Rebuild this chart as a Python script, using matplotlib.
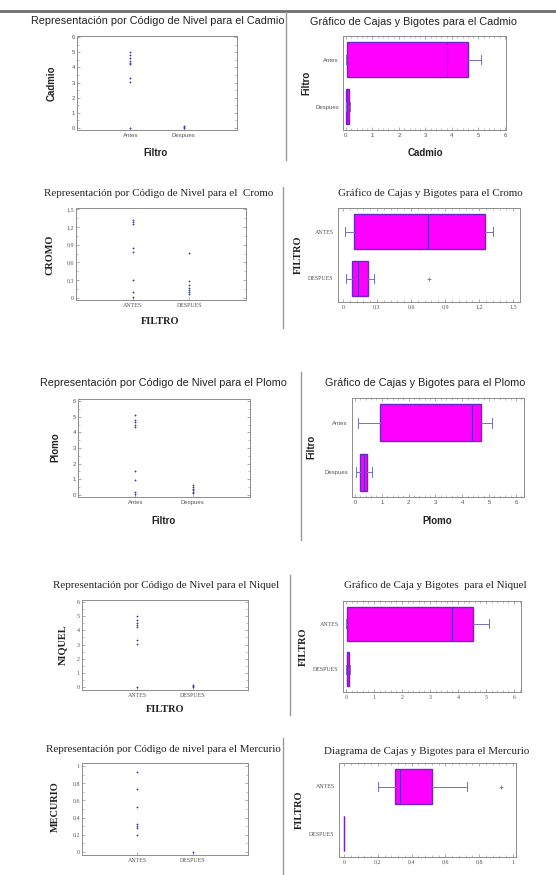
import matplotlib
matplotlib.use("Agg")
import matplotlib.pyplot as plt
from matplotlib.lines import Line2D
from matplotlib.ticker import AutoMinorLocator

W, H = 556, 875

SANS = "Liberation Sans"
SERIF = "Liberation Serif"
MAGENTA = "#ff00ff"
BOX_EDGE = "#6a28c8"
WHISKER = "#7070c8"
POINT = "#3a3ac8"
FRAME = "#8c8c8c"
TICKTXT = "#555555"

# categorias
cat_sans = ["Antes", "Despues"]
cat_serif = ["ANTES", "DESPUES"]

cadmio_antes = [5.0, 4.8, 4.6, 4.45, 4.3, 4.2, 3.3, 3.05, 0.0]
cadmio_despues = [0.12, 0.06, 0.02]
cromo_antes = [1.32, 1.28, 1.25, 0.85, 0.78, 0.3, 0.1, 0.02]
cromo_despues = [0.76, 0.28, 0.22, 0.17, 0.13, 0.1, 0.07]
plomo_antes = [5.1, 4.8, 4.65, 4.5, 4.35, 1.5, 0.95, 0.2, 0.08]
plomo_despues = [0.62, 0.5, 0.4, 0.3, 0.2, 0.1]
niquel_antes = [5.0, 4.75, 4.55, 4.4, 4.25, 3.35, 3.05, 0.0]
niquel_despues = [0.12, 0.06, 0.02]
mercurio_antes = [0.93, 0.73, 0.52, 0.33, 0.3, 0.28, 0.2]
mercurio_despues = [0.0]

# cajas y bigotes: whislo, q1, mediana, q3, whishi
caja_cadmio_antes = [0.0, 0.05, 3.8, 4.6, 5.1]
caja_cadmio_despues = [0.0, 0.02, 0.05, 0.1, 0.15]
caja_cromo_antes = [0.02, 0.1, 0.75, 1.25, 1.32]
caja_cromo_despues = [0.03, 0.08, 0.13, 0.22, 0.27]
caja_plomo_antes = [0.1, 0.95, 4.35, 4.7, 5.1]
caja_plomo_despues = [0.05, 0.2, 0.35, 0.45, 0.65]
caja_niquel_antes = [0.0, 0.05, 3.8, 4.55, 5.1]
caja_niquel_despues = [0.0, 0.02, 0.05, 0.1, 0.15]
caja_mercurio_antes = [0.2, 0.3, 0.33, 0.52, 0.73]
caja_mercurio_despues = [0.0, 0.0, 0.0, 0.0, 0.0]
atipicos_cromo_despues = [0.76]
atipicos_mercurio_antes = [0.93]

# ejes numericos
ticks_0_6 = [0, 1, 2, 3, 4, 5, 6]
labels_0_6 = ["0", "1", "2", "3", "4", "5", "6"]
ticks_cromo = [0, 0.3, 0.6, 0.9, 1.2, 1.5]
labels_cromo = ["0", "0,3", "0,6", "0,9", "1,2", "1,5"]
ticks_mercurio = [0, 0.2, 0.4, 0.6, 0.8, 1.0]
labels_mercurio = ["0", "0,2", "0,4", "0,6", "0,8", "1"]

TICKSIZE = 4.3


def px_axes(fig, l, t, r, b):
    return fig.add_axes([l / W, 1 - b / H, (r - l) / W, (b - t) / H])


def px_text(fig, x, y, s, **kw):
    fig.text(x / W, 1 - y / H, s, ha="center", va="center", **kw)


def px_line(fig, x0, y0, x1, y1, **kw):
    fig.add_artist(Line2D([x0 / W, x1 / W], [1 - y0 / H, 1 - y1 / H],
                          transform=fig.transFigure, **kw))


def frame(ax):
    for sp in ax.spines.values():
        sp.set_edgecolor(FRAME)
        sp.set_linewidth(0.7)


def nivel(fig, rect, antes, despues, cats, yticks, ylabels, ylim, font):
    ax = px_axes(fig, *rect)
    ax.plot([1] * len(antes), antes, "+", color=POINT, ms=2.0, mew=0.6)
    ax.plot([2] * len(despues), despues, "+", color=POINT, ms=2.0, mew=0.6)
    ax.set_xlim(0, 3)
    ax.set_ylim(*ylim)
    ax.set_xticks([1, 2], cats)
    ax.set_yticks(yticks, ylabels)
    ax.yaxis.set_minor_locator(AutoMinorLocator(2))
    ax.tick_params(axis="y", which="both", direction="in", left=True, right=True,
                   colors=FRAME, labelcolor=TICKTXT, labelsize=TICKSIZE, pad=1.5)
    ax.tick_params(axis="y", which="major", length=2.2, width=0.5)
    ax.tick_params(axis="y", which="minor", length=1.2, width=0.4)
    ax.tick_params(axis="x", direction="in", length=2, width=0.5, colors=FRAME,
                   labelcolor=TICKTXT, labelsize=TICKSIZE, pad=2)
    for lab in ax.get_xticklabels() + ax.get_yticklabels():
        lab.set_fontfamily(font)
    frame(ax)
    return ax


def cajas(fig, rect, antes, despues, fl_antes, fl_despues, cats, xticks, xlabels, xlim, font):
    ax = px_axes(fig, *rect)
    stats = []
    for vals, fl in [(despues, fl_despues), (antes, fl_antes)]:
        stats.append(dict(whislo=vals[0], q1=vals[1], med=vals[2], q3=vals[3],
                          whishi=vals[4], fliers=fl))
    ax.bxp(stats, positions=[1, 2], widths=0.75, orientation="horizontal",
           patch_artist=True, manage_ticks=False, capwidths=0.2,
           boxprops=dict(facecolor=MAGENTA, edgecolor=BOX_EDGE, linewidth=1.0),
           medianprops=dict(color=BOX_EDGE, linewidth=0.8),
           whiskerprops=dict(color=WHISKER, linewidth=0.7),
           capprops=dict(color=WHISKER, linewidth=0.7),
           flierprops=dict(marker="+", ms=2.2, mec=WHISKER, mew=0.6))
    ax.set_ylim(0.5, 2.5)
    ax.set_xlim(*xlim)
    ax.set_yticks([1, 2], [cats[1], cats[0]])
    ax.set_xticks(xticks, xlabels)
    ax.xaxis.set_minor_locator(AutoMinorLocator(5))
    ax.tick_params(axis="x", which="both", direction="in", top=True, bottom=True,
                   colors=FRAME, labelcolor=TICKTXT, labelsize=TICKSIZE, pad=2)
    ax.tick_params(axis="x", which="major", length=2.2, width=0.5)
    ax.tick_params(axis="x", which="minor", length=1.2, width=0.4)
    ax.tick_params(axis="y", direction="in", length=0, colors=FRAME,
                   labelcolor=TICKTXT, labelsize=TICKSIZE, pad=3)
    for lab in ax.get_xticklabels() + ax.get_yticklabels():
        lab.set_fontfamily(font)
    frame(ax)
    return ax


fig = plt.figure(figsize=(W / 100, H / 100), dpi=100)
fig.patch.set_facecolor("white")

# lineas de la pagina
px_line(fig, 0, 11, W, 11, color="#6e6e6e", linewidth=2.0)
px_line(fig, 286, 12, 286, 160, color="#9a9a9a", linewidth=1.0)
px_line(fig, 283, 187, 283, 328, color="#9a9a9a", linewidth=1.0)
px_line(fig, 301, 372, 301, 540, color="#9a9a9a", linewidth=1.0)
px_line(fig, 290, 575, 290, 715, color="#9a9a9a", linewidth=1.0)
px_line(fig, 283, 738, 283, 875, color="#9a9a9a", linewidth=1.0)

tsans = dict(fontfamily=SANS, fontsize=7.8, color="#222222")
tserif = dict(fontfamily=SERIF, fontsize=7.9, color="#222222")
lsans = dict(fontfamily=SANS, fontsize=7, fontweight="bold", color="#222222")
lserif = dict(fontfamily=SERIF, fontsize=7.4, fontweight="bold", color="#222222")

# --- Cadmio ---
nivel(fig, (77, 36, 237, 130), cadmio_antes, cadmio_despues, cat_sans,
      ticks_0_6, labels_0_6, (-0.13, 6.07), SANS)
px_text(fig, 158, 21, "Representación por Código de Nivel para el Cadmio", **tsans)
px_text(fig, 52, 83, "Cadmio", rotation=90, **lsans)
px_text(fig, 155, 153, "Filtro", **lsans)

cajas(fig, (343, 36, 506, 130), caja_cadmio_antes, caja_cadmio_despues, [], [],
      cat_sans, ticks_0_6, labels_0_6, (-0.11, 6.04), SANS)
px_text(fig, 414, 22, "Gráfico de Cajas y Bigotes para el Cadmio", **tsans)
px_text(fig, 306, 83, "Filtro", rotation=90, **lsans)
px_text(fig, 425, 153, "Cadmio", **lsans)

# --- Cromo ---
nivel(fig, (76, 208, 246, 300), cromo_antes, cromo_despues, cat_serif,
      ticks_cromo, labels_cromo, (-0.034, 1.52), SERIF)
px_text(fig, 159, 193, "Representación por Código de Nivel para el  Cromo", **tserif)
px_text(fig, 50, 255, "CROMO", rotation=90, **lserif)
px_text(fig, 160, 321, "FILTRO", **lserif)

cajas(fig, (338, 208, 520, 302), caja_cromo_antes, caja_cromo_despues, [],
      atipicos_cromo_despues, cat_serif, ticks_cromo, labels_cromo, (-0.043, 1.56), SERIF)
px_text(fig, 430, 193, "Gráfico de Cajas y Bigotes para el Cromo", **tserif)
px_text(fig, 298, 255, "FILTRO", rotation=90, **lserif)

# --- Plomo ---
nivel(fig, (78, 399, 250, 497), plomo_antes, plomo_despues, cat_sans,
      ticks_0_6, labels_0_6, (-0.13, 6.13), SANS)
px_text(fig, 163, 383, "Representación por Código de Nivel para el Plomo", **tsans)
px_text(fig, 55, 447, "Plomo", rotation=90, **lsans)
px_text(fig, 163, 521, "Filtro", **lsans)

cajas(fig, (352, 398, 524, 497), caja_plomo_antes, caja_plomo_despues, [], [],
      cat_sans, ticks_0_6, labels_0_6, (-0.11, 6.3), SANS)
px_text(fig, 425, 383, "Gráfico de Cajas y Bigotes para el Plomo", **tsans)
px_text(fig, 311, 447, "Filtro", rotation=90, **lsans)
px_text(fig, 437, 521, "Plomo", **lsans)

# --- Niquel ---
nivel(fig, (82, 600, 248, 690), niquel_antes, niquel_despues, cat_serif,
      ticks_0_6, labels_0_6, (-0.2, 6.14), SERIF)
px_text(fig, 166, 585, "Representación por Código de Nivel para el Niquel", **tserif)
px_text(fig, 63, 645, "NIQUEL", rotation=90, **lserif)
px_text(fig, 165, 710, "FILTRO", **lserif)

cajas(fig, (343, 601, 521, 692), caja_niquel_antes, caja_niquel_despues, [], [],
      cat_serif, ticks_0_6, labels_0_6, (-0.11, 6.25), SERIF)
px_text(fig, 435, 585, "Gráfico de Caja y Bigotes  para el Niquel", **tserif)
px_text(fig, 303, 647, "FILTRO", rotation=90, **lserif)

# --- Mercurio ---
nivel(fig, (82, 763, 248, 855), mercurio_antes, mercurio_despues, cat_serif,
      ticks_mercurio, labels_mercurio, (-0.035, 1.035), SERIF)
px_text(fig, 163, 749, "Representación por Código de nivel para el Mercurio", **tserif)
px_text(fig, 55, 807, "MECURIO", rotation=90, **lserif)

cajas(fig, (339, 763, 516, 857), caja_mercurio_antes, caja_mercurio_despues,
      atipicos_mercurio_antes, [], cat_serif, ticks_mercurio, labels_mercurio,
      (-0.03, 1.018), SERIF)
px_text(fig, 427, 751, "Diagrama de Cajas y Bigotes para el Mercurio", **tserif)
px_text(fig, 299, 810, "FILTRO", rotation=90, **lserif)

fig.savefig("out.png", dpi=100, facecolor=fig.get_facecolor())
